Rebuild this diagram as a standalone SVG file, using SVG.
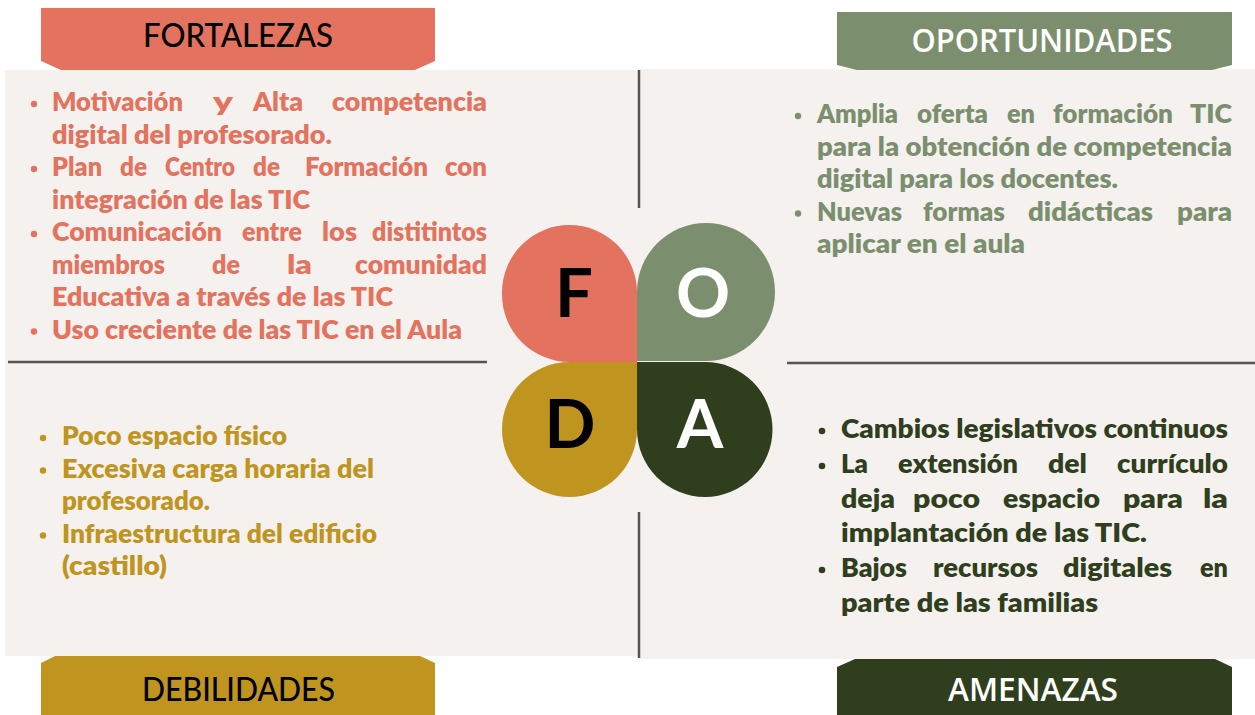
<svg xmlns="http://www.w3.org/2000/svg" width="1255" height="715" viewBox="0 0 1255 715">
<style>
.t{font-family:Lato,"Liberation Sans",sans-serif;font-weight:800;font-size:26px}
.ta{font-size:27px}
.f{fill:#E3735E}.o{fill:#7B8F6F}.d{fill:#C0951F}.a{fill:#2F3F1E}
.h1{font-family:Lato,"Liberation Sans",sans-serif;font-weight:500;font-size:33px;fill:#000;text-anchor:middle}
.h2{font-family:"Open Sans","Liberation Sans",sans-serif;font-weight:600;font-size:33px;fill:#fff;text-anchor:middle}
.big{font-family:Lato,"Liberation Sans",sans-serif;font-weight:700;font-size:67px;text-anchor:middle}
.ln{stroke:#555;stroke-width:2.5;fill:none}
</style>
<rect width="1255" height="715" fill="#fff"/>
<g id="panels">
<rect x="5" y="70" width="633" height="586" fill="#F5F1EE"/>
<rect x="638" y="69" width="617" height="590" fill="#F5F1EE"/>
</g>
<g id="connectors">
<line class="ln" x1="8" y1="362" x2="487" y2="362"/>
<line class="ln" x1="787" y1="363" x2="1255" y2="363"/>
<line class="ln" x1="639" y1="70" x2="639" y2="208"/>
<line class="ln" x1="639" y1="512" x2="639" y2="658"/>
</g>
<g id="banner-fortalezas">
<polygon points="41,8 435,8 435,61 415,70 61,70 41,61" fill="#E3735E"/>
<text class="h1" x="238" y="47" textLength="190" lengthAdjust="spacingAndGlyphs">FORTALEZAS</text>
</g>
<g id="banner-oportunidades">
<polygon points="837,12 1232,12 1232,65 1212,70 857,70 837,65" fill="#7B8F6F"/>
<text class="h2" x="1042" y="52" textLength="261" lengthAdjust="spacingAndGlyphs">OPORTUNIDADES</text>
</g>
<g id="banner-debilidades">
<polygon points="55,656 420,656 435,663 435,715 41,715 41,663" fill="#C0951F"/>
<text class="h1" x="238.5" y="701" textLength="193" lengthAdjust="spacingAndGlyphs">DEBILIDADES</text>
</g>
<g id="banner-amenazas">
<polygon points="855,659 1215,659 1232,667 1232,715 837,715 837,667" fill="#2F3F1E"/>
<text class="h2" x="1033" y="701" textLength="170" lengthAdjust="spacingAndGlyphs">AMENAZAS</text>
</g>
<g id="clover">
<g id="petal-f"><path d="M637,362 H569.5 A67.5,67.5 0 0 1 502,294.5 V292.5 A67.5,67.5 0 0 1 569.5,225 A67.5,67.5 0 0 1 637,292.5 Z" fill="#E3735E"/><text class="big" x="574" y="317" fill="#000">F</text></g>
<g id="petal-o"><path d="M637,361 V292 A69,69 0 0 1 706,223 A69,69 0 0 1 775,292 A69,69 0 0 1 706,361 Z" fill="#7B8F6F"/><text class="big" x="703" y="317" fill="#fff">O</text></g>
<g id="petal-d"><path d="M637,362 V429.5 A67.5,67.5 0 0 1 569.5,497 A67.5,67.5 0 0 1 502,429.5 A67.5,67.5 0 0 1 569.5,362 Z" fill="#C0951F"/><text class="big" x="570" y="448" fill="#000">D</text></g>
<g id="petal-a"><path d="M637,362 H705 A67.5,67.5 0 0 1 772.5,429.5 A67.5,67.5 0 0 1 705,497 A68,67.5 0 0 1 637,429.5 Z" fill="#2F3F1E"/><text class="big" x="700" y="448" fill="#fff">A</text></g>
</g>
<g id="fortalezas" class="t f">
<circle cx="34" cy="104" r="3.2"/><circle cx="34" cy="169" r="3.2"/><circle cx="34" cy="234" r="3.2"/><circle cx="34" cy="331.5" r="3.2"/>
<text x="52" y="111" textLength="131" lengthAdjust="spacingAndGlyphs">Motivación</text>
<text x="213" y="111" textLength="20" lengthAdjust="spacingAndGlyphs">y</text>
<text x="253" y="111" textLength="50" lengthAdjust="spacingAndGlyphs">Alta</text>
<text x="332" y="111" textLength="155" lengthAdjust="spacingAndGlyphs">competencia</text>
<text x="52" y="143.5" textLength="280" lengthAdjust="spacingAndGlyphs">digital del profesorado.</text>
<text x="52" y="176" textLength="50" lengthAdjust="spacingAndGlyphs">Plan</text>
<text x="120" y="176" textLength="27" lengthAdjust="spacingAndGlyphs">de</text>
<text x="165" y="176" textLength="70" lengthAdjust="spacingAndGlyphs">Centro</text>
<text x="253" y="176" textLength="27" lengthAdjust="spacingAndGlyphs">de</text>
<text x="305" y="176" textLength="123" lengthAdjust="spacingAndGlyphs">Formación</text>
<text x="445" y="176" textLength="42" lengthAdjust="spacingAndGlyphs">con</text>
<text x="52" y="208.5" textLength="258" lengthAdjust="spacingAndGlyphs">integración de las TIC</text>
<text x="52" y="241" textLength="170" lengthAdjust="spacingAndGlyphs">Comunicación</text>
<text x="242" y="241" textLength="60" lengthAdjust="spacingAndGlyphs">entre</text>
<text x="322" y="241" textLength="35" lengthAdjust="spacingAndGlyphs">los</text>
<text x="372" y="241" textLength="115" lengthAdjust="spacingAndGlyphs">distitintos</text>
<text x="52" y="273.5" textLength="113" lengthAdjust="spacingAndGlyphs">miembros</text>
<text x="212" y="273.5" textLength="28" lengthAdjust="spacingAndGlyphs">de</text>
<text x="287" y="273.5" textLength="25" lengthAdjust="spacingAndGlyphs">la</text>
<text x="355" y="273.5" textLength="132" lengthAdjust="spacingAndGlyphs">comunidad</text>
<text x="52" y="306" textLength="341" lengthAdjust="spacingAndGlyphs">Educativa a través de las TIC</text>
<text x="52" y="338.5" textLength="410" lengthAdjust="spacingAndGlyphs">Uso creciente de las TIC en el Aula</text>
</g>
<g id="oportunidades" class="t o">
<circle cx="798" cy="116" r="3.2"/><circle cx="798" cy="213.5" r="3.2"/>
<text x="817" y="123" textLength="81" lengthAdjust="spacingAndGlyphs">Amplia</text>
<text x="917" y="123" textLength="71" lengthAdjust="spacingAndGlyphs">oferta</text>
<text x="1007" y="123" textLength="28" lengthAdjust="spacingAndGlyphs">en</text>
<text x="1053" y="123" textLength="120" lengthAdjust="spacingAndGlyphs">formación</text>
<text x="1190" y="123" textLength="42" lengthAdjust="spacingAndGlyphs">TIC</text>
<text x="817" y="155.5" textLength="415" lengthAdjust="spacingAndGlyphs">para la obtención de competencia</text>
<text x="817" y="188" textLength="301" lengthAdjust="spacingAndGlyphs">digital para los docentes.</text>
<text x="817" y="220.5" textLength="85" lengthAdjust="spacingAndGlyphs">Nuevas</text>
<text x="923" y="220.5" textLength="82" lengthAdjust="spacingAndGlyphs">formas</text>
<text x="1028" y="220.5" textLength="125" lengthAdjust="spacingAndGlyphs">didácticas</text>
<text x="1177" y="220.5" textLength="55" lengthAdjust="spacingAndGlyphs">para</text>
<text x="817" y="253" textLength="208" lengthAdjust="spacingAndGlyphs">aplicar en el aula</text>
</g>
<g id="debilidades" class="t d">
<circle cx="43" cy="438" r="3.2"/><circle cx="43" cy="470.5" r="3.2"/><circle cx="43" cy="535.5" r="3.2"/>
<text x="62" y="445" textLength="225" lengthAdjust="spacingAndGlyphs">Poco espacio físico</text>
<text x="62" y="477.5" textLength="312" lengthAdjust="spacingAndGlyphs">Excesiva carga horaria del</text>
<text x="62" y="510" textLength="148" lengthAdjust="spacingAndGlyphs">profesorado.</text>
<text x="62" y="542.5" textLength="315" lengthAdjust="spacingAndGlyphs">Infraestructura del edificio</text>
<text x="62" y="575" textLength="105" lengthAdjust="spacingAndGlyphs">(castillo)</text>
</g>
<g id="amenazas" class="t ta a">
<circle cx="822" cy="431" r="3.3"/><circle cx="822" cy="466" r="3.3"/><circle cx="822" cy="570" r="3.3"/>
<text x="841" y="438" textLength="387" lengthAdjust="spacingAndGlyphs">Cambios legislativos continuos</text>
<text x="841" y="473" textLength="27" lengthAdjust="spacingAndGlyphs">La</text>
<text x="898" y="473" textLength="120" lengthAdjust="spacingAndGlyphs">extensión</text>
<text x="1048" y="473" textLength="39" lengthAdjust="spacingAndGlyphs">del</text>
<text x="1117" y="473" textLength="111" lengthAdjust="spacingAndGlyphs">currículo</text>
<text x="841" y="507.5" textLength="54" lengthAdjust="spacingAndGlyphs">deja</text>
<text x="913" y="507.5" textLength="67" lengthAdjust="spacingAndGlyphs">poco</text>
<text x="1003" y="507.5" textLength="97" lengthAdjust="spacingAndGlyphs">espacio</text>
<text x="1123" y="507.5" textLength="60" lengthAdjust="spacingAndGlyphs">para</text>
<text x="1203" y="507.5" textLength="25" lengthAdjust="spacingAndGlyphs">la</text>
<text x="841" y="542" textLength="306" lengthAdjust="spacingAndGlyphs">implantación de las TIC.</text>
<text x="841" y="577" textLength="66" lengthAdjust="spacingAndGlyphs">Bajos</text>
<text x="933" y="577" textLength="105" lengthAdjust="spacingAndGlyphs">recursos</text>
<text x="1063" y="577" textLength="109" lengthAdjust="spacingAndGlyphs">digitales</text>
<text x="1200" y="577" textLength="28" lengthAdjust="spacingAndGlyphs">en</text>
<text x="841" y="611.5" textLength="257" lengthAdjust="spacingAndGlyphs">parte de las familias</text>
</g>
</svg>
